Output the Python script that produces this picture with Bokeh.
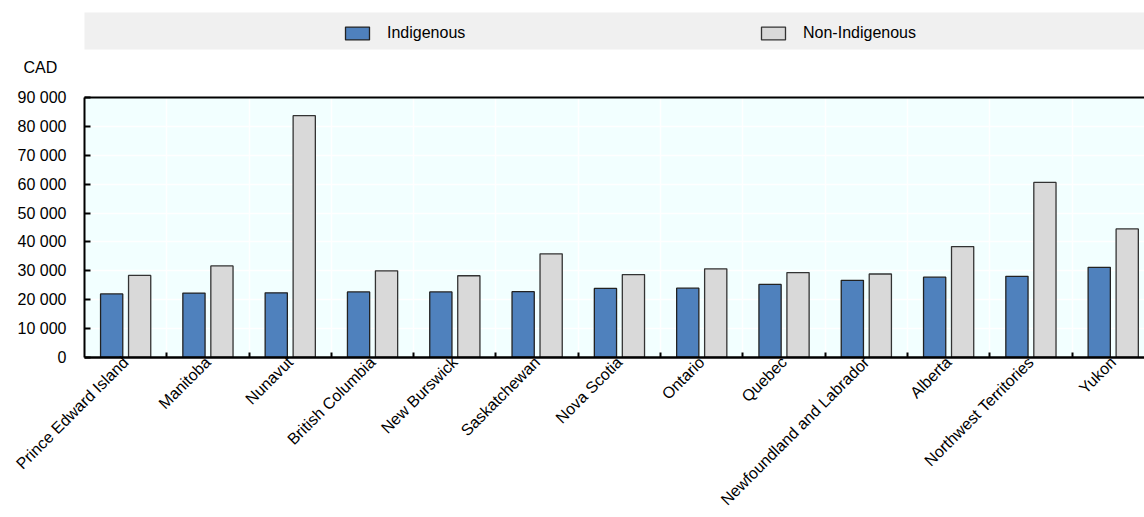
import numpy as np
from bokeh.plotting import figure
from bokeh.layouts import column
from bokeh.models import (ColumnDataSource, Range1d, FixedTicker, LinearAxis, Legend, LegendItem,
                          Title)
from bokeh.embed import file_html
from bokeh.resources import INLINE

# ---- data ----
categories = ["Prince Edward Island", "Manitoba", "Nunavut", "British Columbia", "New Burswick",
              "Saskatchewan", "Nova Scotia", "Ontario", "Quebec", "Newfoundland and Labrador",
              "Alberta", "Northwest Territories", "Yukon"]
indigenous = [22000, 22300, 22400, 22700, 22700, 22800, 23900, 24000, 25300, 26700, 27800, 28100, 31200]
non_indigenous = [28400, 31700, 83700, 30000, 28300, 35900, 28700, 30700, 29400, 28900, 38400, 60600, 44500]
series_names = ["Indigenous", "Non-Indigenous"]
y_ticks = [0, 10000, 20000, 30000, 40000, 50000, 60000, 70000, 80000, 90000]
y_tick_labels = ["0", "10 000", "20 000", "30 000", "40 000", "50 000", "60 000", "70 000", "80 000", "90 000"]
unit_label = "CAD"

FONT = "Liberation Sans"
BLUE = "#4F81BD"
GREY = "#D9D9D9"
BLUE_LINE = "#222222"
GREY_LINE = "#333333"

n = len(categories)
centers = list(np.arange(n) + 0.5)
boundaries = list(range(1, n))

src = ColumnDataSource(dict(
    xb=[c - 0.17 for c in centers], xg=[c + 0.17 for c in centers],
    ind=indigenous, non=non_indigenous,
))

# ---------------- header: legend band + unit label ----------------
# legend proxies: same styling as the bars, with an empty (NaN) point so nothing is drawn
proxy = ColumnDataSource(dict(x=[np.nan], top=[np.nan]))
head = figure(width=1144, height=85, output_backend="svg", toolbar_location=None,
              x_axis_type=None, y_axis_type=None,
              x_range=Range1d(0, 12.88), y_range=Range1d(0, 1),
              min_border_left=78, min_border_right=0, min_border_top=12, min_border_bottom=36,
              background_fill_color="#F0F0F0", border_fill_color="white")
head.outline_line_color = None
head.grid.visible = False
hb = head.vbar(x="x", top="top", width=0.27, source=proxy, fill_color=BLUE,
               line_color=BLUE_LINE, line_width=1.3)
hg = head.vbar(x="x", top="top", width=0.27, source=proxy, fill_color=GREY,
               line_color=GREY_LINE, line_width=1.3)
legend = Legend(items=[LegendItem(label=series_names[0], renderers=[hb]),
                       LegendItem(label=series_names[1], renderers=[hg])],
                orientation="horizontal", location=(258, 7),
                glyph_width=30, glyph_height=16, label_standoff=15, label_width=371,
                label_height=16, spacing=0, padding=6, margin=0,
                background_fill_alpha=0, border_line_color=None,
                label_text_font=FONT, label_text_font_size="16px", label_text_color="black")
head.add_layout(legend)
head.add_layout(Title(text=unit_label, align="left", offset=-61, standoff=15,
                      text_font=FONT, text_font_size="16px", text_font_style="normal",
                      text_color="black"), "below")

# ---------------- main chart ----------------
p = figure(width=1144, height=432, output_backend="svg", toolbar_location=None,
           x_range=Range1d(0, 12.88), y_range=Range1d(0, 90000),
           min_border_left=84, min_border_right=0, min_border_top=12, min_border_bottom=159,
           background_fill_color="#F2FFFF", border_fill_color="white")
p.outline_line_color = None

p.vbar(x="xb", top="ind", width=0.27, source=src, fill_color=BLUE,
       line_color=BLUE_LINE, line_width=1.3)
p.vbar(x="xg", top="non", width=0.27, source=src, fill_color=GREY,
       line_color=GREY_LINE, line_width=1.3)

# x axis: labels at centres, small inward ticks at category boundaries
xax = p.xaxis[0]
xax.ticker = FixedTicker(ticks=centers, minor_ticks=boundaries)
xax.major_label_overrides = {c: name for c, name in zip(centers, categories)}
xax.major_label_orientation = np.pi / 4
xax.major_tick_line_color = None
xax.major_tick_in = 0
xax.major_tick_out = 0
xax.minor_tick_in = 5
xax.minor_tick_out = 0
xax.minor_tick_line_width = 2
xax.minor_tick_line_color = "black"
xax.axis_line_width = 2.5
xax.axis_line_color = "black"
xax.major_label_standoff = 2
xax.major_label_text_font = FONT
xax.major_label_text_font_size = "16px"
xax.major_label_text_color = "black"

yax = p.yaxis[0]
yax.ticker = FixedTicker(ticks=y_ticks)
yax.major_label_overrides = {t: l for t, l in zip(y_ticks, y_tick_labels)}
yax.major_tick_in = 6
yax.major_tick_out = 0
yax.major_tick_line_width = 2
yax.major_tick_line_color = "black"
yax.minor_tick_line_color = None
yax.axis_line_width = 2
yax.axis_line_color = "black"
yax.major_label_standoff = 18
yax.major_label_text_font = FONT
yax.major_label_text_font_size = "16px"
yax.major_label_text_color = "black"

top_ax = LinearAxis(ticker=FixedTicker(ticks=[]), axis_line_width=2, axis_line_color="black",
                    major_tick_line_color=None, minor_tick_line_color=None,
                    major_label_text_font_size="0px")
p.add_layout(top_ax, "above")

# grid
p.xgrid.ticker = FixedTicker(ticks=boundaries)
p.xgrid.grid_line_color = "white"
p.xgrid.grid_line_width = 1.5
p.ygrid.ticker = FixedTicker(ticks=y_ticks)
p.ygrid.grid_line_color = "white"
p.ygrid.grid_line_width = 1.5

layout = column(head, p, spacing=0)
open("out.html", "w").write(file_html(layout, INLINE))
